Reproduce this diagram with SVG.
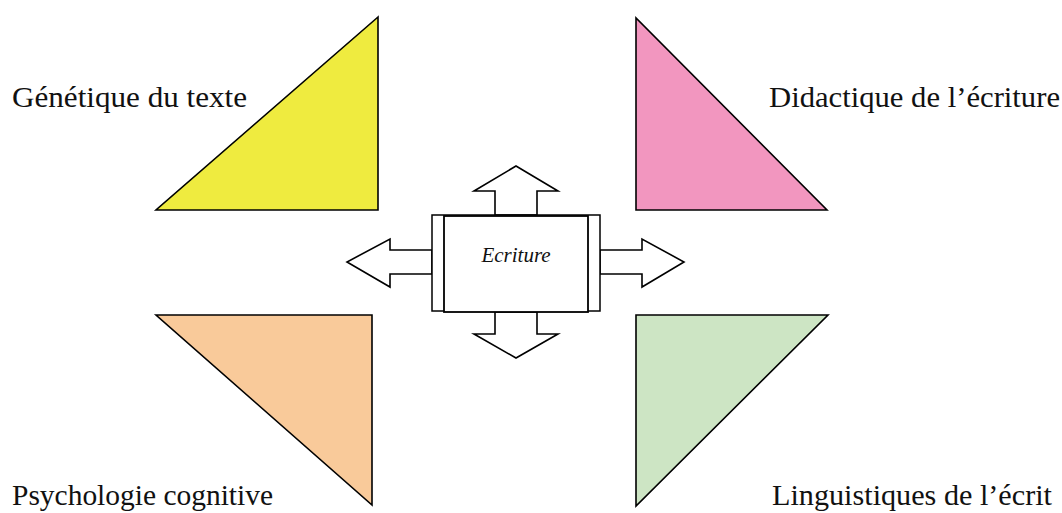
<svg xmlns="http://www.w3.org/2000/svg" width="1062" height="513" viewBox="0 0 1062 513">
<style>
.tri{stroke:#000;stroke-width:1.6;stroke-linejoin:miter}
.lbl{font-family:"Liberation Serif","Times New Roman",serif;font-size:30px;fill:#111}
.arr{fill:#fff;stroke:#000;stroke-width:1.6;stroke-linejoin:miter}
.box{fill:#fff;stroke:#000;stroke-width:1.8}
.ctr{font-family:"Liberation Serif","Times New Roman",serif;font-style:italic;font-size:21px;fill:#111}
</style>
<rect width="1062" height="513" fill="#fff"/>
<g id="genetique">
<polygon class="tri" fill="#EFEB3F" points="378,17 156,210 378,210"/>
<text class="lbl" x="12" y="107" textLength="235" lengthAdjust="spacingAndGlyphs">Génétique du texte</text>
</g>
<g id="didactique">
<polygon class="tri" fill="#F296BF" points="636,18 636,210 827,210"/>
<text class="lbl" x="769" y="107" textLength="291" lengthAdjust="spacingAndGlyphs">Didactique de l’écriture</text>
</g>
<g id="psychologie">
<polygon class="tri" fill="#F9CA9A" points="156,315 372,315 372,505"/>
<text class="lbl" x="12" y="505" textLength="261" lengthAdjust="spacingAndGlyphs">Psychologie cognitive</text>
</g>
<g id="linguistiques">
<polygon class="tri" fill="#CDE5C4" points="636,315 828,315 636,506"/>
<text class="lbl" x="772" y="505" textLength="280" lengthAdjust="spacingAndGlyphs">Linguistiques de l’écrit</text>
</g>
<g id="connectors">
<polygon class="arr" points="495,215 495,191 474,191 516,166 558,191 537,191 537,215"/>
<polygon class="arr" points="495,312 495,334 474,334 516,358 558,334 537,334 537,312"/>
<polygon class="arr" points="432,250 390,250 390,239 347,262 390,287 390,274 432,274"/>
<polygon class="arr" points="600,250 642,250 642,239 684,262 642,287 642,274 600,274"/>
</g>
<g id="ecriture">
<rect class="box" x="432" y="215" width="168" height="96" style="stroke-width:1.5"/>
<rect class="box" x="444" y="216" width="144" height="96"/>
<text class="ctr" x="516" y="262" text-anchor="middle">Ecriture</text>
</g>
</svg>
